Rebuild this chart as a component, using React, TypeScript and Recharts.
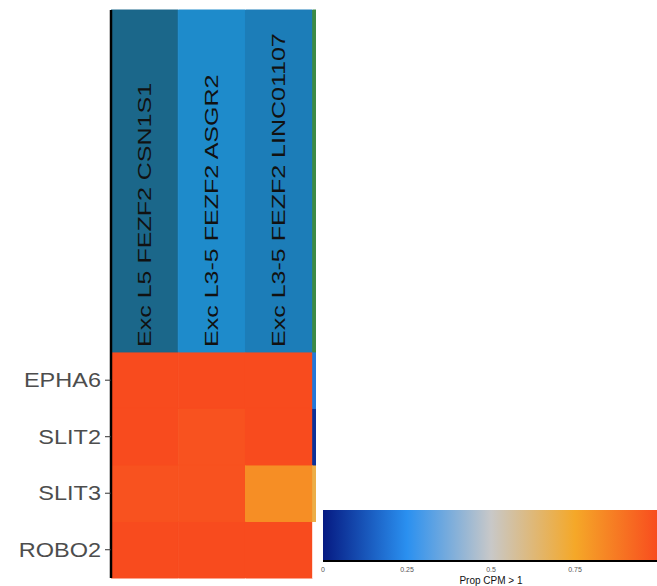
import { BarChart, Bar, XAxis, YAxis, Cell, LabelList } from "recharts"

// clusters across the top (the 4th one is cut off at the panel edge)
const clusters = ["Exc L5 FEZF2 CSN1S1", "Exc L3-5 FEZF2 ASGR2", "Exc L3-5 FEZF2 LINC01107", ""]
const clusterColors = ["#1b678a", "#1e8bcb", "#1c7db8", "#3d8a45"]

// genes, bottom row first
const genes = ["ROBO2", "SLIT3", "SLIT2", "EPHA6"]

// proportion of cells with CPM > 1, one value per cluster
const propROBO2 = [1, 1, 1, null]
const propSLIT3 = [0.98, 0.98, 0.82, 0.7]
const propSLIT2 = [1, 0.98, 1, 0.05]
const propEPHA6 = [1, 1, 1, 0.2]

// the "1" end of the colour bar falls outside the page
const legendTicks = [0, 0.25, 0.5, 0.75]
const gradientStops = [
  { at: 0, color: "#061a82" },
  { at: 0.25, color: "#2a90f0" },
  { at: 0.5, color: "#c8c8c8" },
  { at: 0.75, color: "#f5a828" },
  { at: 1, color: "#f84b1e" },
]

const HEADER_UNITS = 6.05
const FONT = '"Liberation Sans", Arial, Helvetica, sans-serif'

const hex = (c: string) => [1, 3, 5].map((i) => parseInt(c.slice(i, i + 2), 16))

const propColor = (v: number | null) => {
  if (v == null) return "#ffffff"
  for (let i = 1; i < gradientStops.length; i++) {
    const a = gradientStops[i - 1]
    const b = gradientStops[i]
    if (v <= b.at) {
      const t = (v - a.at) / (b.at - a.at)
      const ca = hex(a.color)
      const cb = hex(b.color)
      const mix = ca.map((x, k) => Math.round(x + (cb[k] - x) * t))
      return `rgb(${mix.join(",")})`
    }
  }
  return gradientStops[gradientStops.length - 1].color
}

const propsByGene: Record<string, (number | null)[]> = {
  ROBO2: propROBO2,
  SLIT3: propSLIT3,
  SLIT2: propSLIT2,
  EPHA6: propEPHA6,
}

// every cell is one unit tall, colour comes from the proportion
const heatData = clusters.map((name) => ({
  name,
  ROBO2: 1,
  SLIT3: 1,
  SLIT2: 1,
  EPHA6: 1,
  header: HEADER_UNITS,
}))

const HeaderLabel = (props: any) => {
  const { x, y, width, height, value } = props
  const cx = x + width / 2
  const by = y + height - 5
  return (
    <g transform={`translate(${cx},${by}) rotate(-90) scale(1.39,1)`}>
      <text x={0} y={0} textAnchor="start" dominantBaseline="central" fontSize={18} fontFamily={FONT} fill="#111">
        {value}
      </text>
    </g>
  )
}

const GeneTick = (props: any) => {
  const { x, y, payload } = props
  const label = genes[Math.floor(payload.value)]
  return (
    <g transform={`translate(${x},${y}) scale(1.12,1)`}>
      <text x={0} y={0} textAnchor="end" dominantBaseline="central" fontSize={21} fontFamily={FONT} fill="#4d4d4d">
        {label}
      </text>
    </g>
  )
}

export default function App() {
  return (
    <div style={{ position: "absolute", left: 0, top: 0, width: 657, height: 586, overflow: "hidden", background: "#fff" }}>
      <div style={{ position: "absolute", left: 0, top: 0, width: 316, height: 586, overflow: "hidden" }}>
        <BarChart
          width={380}
          height={586}
          data={heatData}
          margin={{ top: 10, right: 0, bottom: 8, left: 0 }}
          barCategoryGap={0}
          barGap={0}
        >
          <XAxis dataKey="name" tick={false} tickLine={false} height={0} axisLine={{ stroke: "#000", strokeWidth: 2.5 }} />
          <YAxis
            type="number"
            domain={[0, 4 + HEADER_UNITS]}
            ticks={[0.5, 1.5, 2.5, 3.5]}
            width={111}
            tickSize={6}
            tickMargin={4}
            tick={<GeneTick />}
            tickLine={{ stroke: "#333" }}
            axisLine={{ stroke: "#000", strokeWidth: 2.5 }}
          />
          {genes.map((g) => (
            <Bar key={g} dataKey={g} stackId="h" isAnimationActive={false}>
              {propsByGene[g].map((v, i) => (
                <Cell key={i} fill={propColor(v)} stroke={propColor(v)} strokeWidth={1} />
              ))}
            </Bar>
          ))}
          <Bar dataKey="header" stackId="h" isAnimationActive={false}>
            {clusterColors.map((c, i) => (
              <Cell key={i} fill={c} stroke={c} strokeWidth={1} />
            ))}
            <LabelList dataKey="name" content={<HeaderLabel />} />
          </Bar>
        </BarChart>
      </div>
      <div style={{ position: "absolute", left: 313, top: 500 }}>
        <BarChart
          layout="vertical"
          width={356}
          height={90}
          data={[{ name: "prop", value: 1 }]}
          margin={{ top: 10, right: 10, bottom: 0, left: 10 }}
          barCategoryGap={0}
        >
          <defs>
            <linearGradient id="propGrad" x1="0" y1="0" x2="1" y2="0">
              {gradientStops.map((s) => (
                <stop key={s.at} offset={`${s.at * 100}%`} stopColor={s.color} />
              ))}
            </linearGradient>
          </defs>
          <XAxis
            type="number"
            domain={[0, 1]}
            ticks={legendTicks}
            tickFormatter={(v) => String(v)}
            height={29}
            tickLine={false}
            tickSize={0}
            tickMargin={6}
            tick={{ fontSize: 7, fill: "#555", fontFamily: FONT }}
            axisLine={{ stroke: "#000", strokeWidth: 2 }}
            label={{ value: "Prop CPM > 1", position: "insideBottom", offset: 6, fontSize: 10, fill: "#111", fontFamily: FONT }}
          />
          <YAxis type="category" dataKey="name" hide />
          <Bar dataKey="value" fill="url(#propGrad)" isAnimationActive={false} />
        </BarChart>
      </div>
    </div>
  )
}
